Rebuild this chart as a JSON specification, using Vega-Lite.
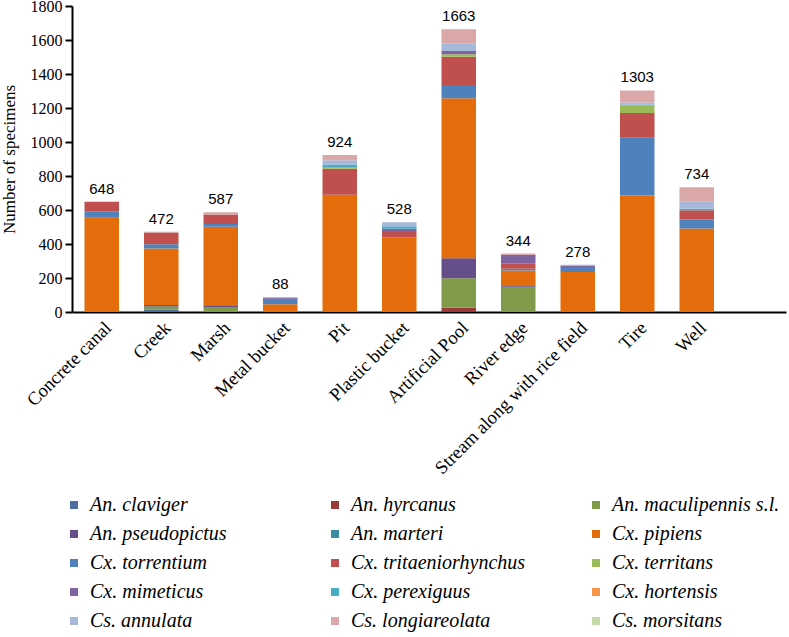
{
  "$schema": "https://vega.github.io/schema/vega-lite/v6.json",
  "autosize": "none",
  "padding": {"left": 72, "top": 6, "right": 3, "bottom": 325},
  "width": 714,
  "height": 306,
  "background": "white",
  "config": {
    "font": "Liberation Serif",
    "view": {"stroke": null}
  },
  "data": {"values": [
    {"site": "Concrete canal", "species": "Cx. pipiens", "k": 6, "n": 555},
    {"site": "Concrete canal", "species": "Cx. torrentium", "k": 7, "n": 38},
    {"site": "Concrete canal", "species": "Cx. tritaeniorhynchus", "k": 8, "n": 55},
    {"site": "Creek", "species": "An. claviger", "k": 1, "n": 15},
    {"site": "Creek", "species": "An. maculipennis s.l.", "k": 3, "n": 18},
    {"site": "Creek", "species": "An. pseudopictus", "k": 4, "n": 8},
    {"site": "Creek", "species": "Cx. pipiens", "k": 6, "n": 333},
    {"site": "Creek", "species": "Cx. torrentium", "k": 7, "n": 25},
    {"site": "Creek", "species": "Cx. tritaeniorhynchus", "k": 8, "n": 66},
    {"site": "Creek", "species": "Cs. longiareolata", "k": 14, "n": 7},
    {"site": "Marsh", "species": "An. maculipennis s.l.", "k": 3, "n": 29},
    {"site": "Marsh", "species": "An. pseudopictus", "k": 4, "n": 6},
    {"site": "Marsh", "species": "Cx. pipiens", "k": 6, "n": 466},
    {"site": "Marsh", "species": "Cx. torrentium", "k": 7, "n": 16},
    {"site": "Marsh", "species": "Cx. tritaeniorhynchus", "k": 8, "n": 53},
    {"site": "Marsh", "species": "Cs. longiareolata", "k": 14, "n": 17},
    {"site": "Metal bucket", "species": "Cx. pipiens", "k": 6, "n": 46},
    {"site": "Metal bucket", "species": "Cx. torrentium", "k": 7, "n": 32},
    {"site": "Metal bucket", "species": "Cx. mimeticus", "k": 10, "n": 5},
    {"site": "Metal bucket", "species": "Cs. longiareolata", "k": 14, "n": 5},
    {"site": "Pit", "species": "Cx. pipiens", "k": 6, "n": 690},
    {"site": "Pit", "species": "Cx. tritaeniorhynchus", "k": 8, "n": 152},
    {"site": "Pit", "species": "Cx. territans", "k": 9, "n": 6},
    {"site": "Pit", "species": "Cx. perexiguus", "k": 11, "n": 20},
    {"site": "Pit", "species": "Cs. annulata", "k": 13, "n": 25},
    {"site": "Pit", "species": "Cs. longiareolata", "k": 14, "n": 31},
    {"site": "Plastic bucket", "species": "Cx. pipiens", "k": 6, "n": 440},
    {"site": "Plastic bucket", "species": "Cx. tritaeniorhynchus", "k": 8, "n": 30},
    {"site": "Plastic bucket", "species": "Cx. mimeticus", "k": 10, "n": 20},
    {"site": "Plastic bucket", "species": "Cx. perexiguus", "k": 11, "n": 14},
    {"site": "Plastic bucket", "species": "Cs. annulata", "k": 13, "n": 24},
    {"site": "Artificial Pool", "species": "An. hyrcanus", "k": 2, "n": 25},
    {"site": "Artificial Pool", "species": "An. maculipennis s.l.", "k": 3, "n": 173},
    {"site": "Artificial Pool", "species": "An. pseudopictus", "k": 4, "n": 118},
    {"site": "Artificial Pool", "species": "Cx. pipiens", "k": 6, "n": 941},
    {"site": "Artificial Pool", "species": "Cx. torrentium", "k": 7, "n": 78},
    {"site": "Artificial Pool", "species": "Cx. tritaeniorhynchus", "k": 8, "n": 167},
    {"site": "Artificial Pool", "species": "Cx. territans", "k": 9, "n": 14},
    {"site": "Artificial Pool", "species": "Cx. mimeticus", "k": 10, "n": 20},
    {"site": "Artificial Pool", "species": "Cs. annulata", "k": 13, "n": 45},
    {"site": "Artificial Pool", "species": "Cs. longiareolata", "k": 14, "n": 82},
    {"site": "River edge", "species": "An. maculipennis s.l.", "k": 3, "n": 148},
    {"site": "River edge", "species": "An. pseudopictus", "k": 4, "n": 10},
    {"site": "River edge", "species": "Cx. pipiens", "k": 6, "n": 86},
    {"site": "River edge", "species": "Cx. torrentium", "k": 7, "n": 10},
    {"site": "River edge", "species": "Cx. tritaeniorhynchus", "k": 8, "n": 30},
    {"site": "River edge", "species": "Cx. mimeticus", "k": 10, "n": 52},
    {"site": "River edge", "species": "Cs. longiareolata", "k": 14, "n": 8},
    {"site": "Stream along with rice field", "species": "Cx. pipiens", "k": 6, "n": 235},
    {"site": "Stream along with rice field", "species": "Cx. torrentium", "k": 7, "n": 30},
    {"site": "Stream along with rice field", "species": "Cx. mimeticus", "k": 10, "n": 6},
    {"site": "Stream along with rice field", "species": "Cs. annulata", "k": 13, "n": 7},
    {"site": "Tire", "species": "Cx. pipiens", "k": 6, "n": 685},
    {"site": "Tire", "species": "Cx. torrentium", "k": 7, "n": 340},
    {"site": "Tire", "species": "Cx. tritaeniorhynchus", "k": 8, "n": 145},
    {"site": "Tire", "species": "Cx. territans", "k": 9, "n": 45},
    {"site": "Tire", "species": "Cx. perexiguus", "k": 11, "n": 6},
    {"site": "Tire", "species": "Cs. annulata", "k": 13, "n": 12},
    {"site": "Tire", "species": "Cs. longiareolata", "k": 14, "n": 70},
    {"site": "Well", "species": "Cx. pipiens", "k": 6, "n": 491},
    {"site": "Well", "species": "Cx. torrentium", "k": 7, "n": 53},
    {"site": "Well", "species": "Cx. tritaeniorhynchus", "k": 8, "n": 55},
    {"site": "Well", "species": "Cx. perexiguus", "k": 11, "n": 10},
    {"site": "Well", "species": "Cs. annulata", "k": 13, "n": 39},
    {"site": "Well", "species": "Cs. longiareolata", "k": 14, "n": 86}
  ]},
  "encoding": {
    "x": {
      "field": "site", "type": "nominal",
      "scale": {
        "domain": ["Concrete canal", "Creek", "Marsh", "Metal bucket", "Pit", "Plastic bucket", "Artificial Pool", "River edge", "Stream along with rice field", "Tire", "Well", " "],
        "paddingInner": 0.42, "paddingOuter": 0.21
      },
      "axis": {
        "title": null, "labelAngle": -45, "labelFont": "Liberation Serif", "labelFontSize": 18.5,
        "labelColor": "black", "ticks": false, "labelPadding": 6,
        "domainColor": "black", "domainWidth": 2, "labelLimit": 400
      }
    },
    "y": {
      "aggregate": "sum", "field": "n", "type": "quantitative",
      "scale": {"domain": [0, 1800]},
      "axis": {
        "title": "Number of specimens", "titleFont": "Times New Roman, serif", "titleFontSize": 17,
        "titleFontWeight": "normal", "titleColor": "black", "titlePadding": 12,
        "values": [0, 200, 400, 600, 800, 1000, 1200, 1400, 1600, 1800],
        "format": "d", "labelOverlap": false,
        "labelFont": "Times New Roman, serif", "labelFontSize": 16, "labelColor": "black",
        "grid": false, "domainColor": "black", "domainWidth": 2,
        "tickColor": "black", "tickWidth": 2, "tickSize": 7, "labelPadding": 3
      }
    }
  },
  "layer": [
    {
      "mark": {"type": "bar"},
      "encoding": {
        "color": {
          "field": "species", "type": "nominal",
          "scale": {
            "domain": ["An. claviger", "An. pseudopictus", "Cx. torrentium", "Cx. mimeticus", "Cs. annulata", "An. hyrcanus", "An. marteri", "Cx. tritaeniorhynchus", "Cx. perexiguus", "Cs. longiareolata", "An. maculipennis s.l.", "Cx. pipiens", "Cx. territans", "Cx. hortensis", "Cs. morsitans"],
            "range": ["#4A6EA0", "#654E89", "#4F81BD", "#8064A2", "#A7B9DB", "#9B3A37", "#3A8CA2", "#C0504D", "#4BACC6", "#DBA8A9", "#7F9B4A", "#E46C0A", "#9BBB59", "#F79646", "#C5D8A9"]
          },
          "legend": {
            "title": null, "orient": "none", "legendX": -8, "legendY": 489,
            "columns": 3, "gridAlign": "all", "columnPadding": 60, "rowPadding": 9,
            "symbolType": "square", "symbolSize": 64, "symbolStrokeWidth": 0, "symbolOpacity": 1,
            "labelFont": "Times New Roman, serif", "labelFontStyle": "italic", "labelFontSize": 20,
            "labelColor": "black", "labelOffset": 6, "labelLimit": 300
          }
        },
        "order": {"field": "k", "type": "quantitative"}
      }
    },
    {
      "mark": {"type": "text", "baseline": "bottom", "dy": -5, "font": "Liberation Sans", "fontSize": 15, "color": "black"},
      "encoding": {
        "text": {"aggregate": "sum", "field": "n", "type": "quantitative"}
      }
    }
  ]
}
